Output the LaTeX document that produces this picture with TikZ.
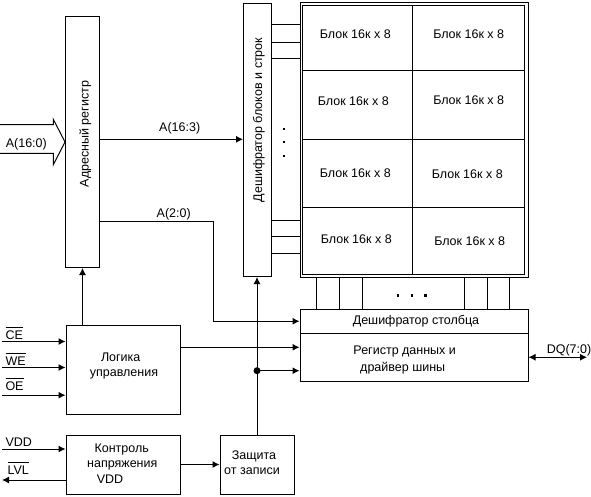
\documentclass[tikz,border=0pt]{standalone}
\usepackage{fontspec}
\setmainfont{Liberation Sans}
\usetikzlibrary{arrows.meta}
\newcommand\ovl[1]{\leavevmode\vbox{\hrule height 1pt depth 0pt\kern 2.5pt\hbox{#1}}}
\begin{document}
\begin{tikzpicture}[x=1pt,y=-1pt,line width=1pt,
  box/.style={draw,inner sep=0pt,anchor=north west},
  txt/.style={inner sep=0pt,anchor=base,font=\fontsize{12.5}{14}\selectfont},
  ltxt/.style={inner sep=0pt,anchor=base west,font=\fontsize{12.5}{14}\selectfont},
  arr/.style={-{Latex[length=7pt,width=7pt]}},
  darr/.style={{Latex[length=7pt,width=7pt]}-{Latex[length=7pt,width=7pt]}}]
\useasboundingbox (0,0) rectangle (591,497);
% blocks
\node[box,minimum width=34pt,minimum height=251pt] (areg) at (65,16) {};
\node[box,minimum width=28pt,minimum height=273pt] (dec) at (243,3) {};
\node[box,minimum width=228pt,minimum height=274pt] (mem) at (299.5,2.5) {};
\node[box,minimum width=228pt,minimum height=24.5pt] (coldec) at (299.5,308.5) {};
\node[box,minimum width=228pt,minimum height=47.5pt] (datareg) at (299.5,333) {};
\node[box,minimum width=114pt,minimum height=89pt] (logic) at (65.5,324.5) {};
\node[box,minimum width=114pt,minimum height=59pt] (volt) at (65.5,434.5) {};
\node[box,minimum width=74pt,minimum height=59pt] (prot) at (219.5,434.5) {};
% memory inner frame and grid
\draw (302.5,5.5) rectangle (524.5,274);
\draw (412.7,5.5) -- (412.7,274);
\foreach \y in {70.3,139.3,207.3} \draw (302.5,\y) -- (524.5,\y);
% texts in blocks
\node[txt,rotate=90] (tareg) at (88.5,134) {Адресный регистр};
\node[txt,rotate=90] (tdec) at (262,120) {Дешифратор блоков и строк};
\node[txt] (b11) at (355.3,38.3) {Блок 16к x 8};
\node[txt] (b12) at (468.7,38.3) {Блок 16к x 8};
\node[txt] (b21) at (353.3,106) {Блок 16к x 8};
\node[txt] (b22) at (468.7,105) {Блок 16к x 8};
\node[txt] (b31) at (355.3,177.3) {Блок 16к x 8};
\node[txt] (b32) at (467.3,178.3) {Блок 16к x 8};
\node[txt] (b41) at (356.3,243.3) {Блок 16к x 8};
\node[txt] (b42) at (469.7,245.7) {Блок 16к x 8};
\node[txt] (tcol) at (416,324.5) {Дешифратор столбца};
\node[txt] (tdr1) at (404.7,354.3) {Регистр данных и};
\node[txt] (tdr2) at (402.7,371.7) {драйвер шины};
\node[txt] (tl1) at (120.7,361) {Логика};
\node[txt] (tl2) at (124,376) {управления};
\node[txt] (tv1) at (121.7,452.7) {Контроль};
\node[txt] (tv2) at (122.3,467.3) {напряжения};
\node[txt] (tv3) at (110,483.3) {VDD};
\node[txt] (tp1) at (254,459) {Защита};
\node[txt] (tp2) at (252,474.3) {от записи};
% hollow input arrow
\draw (0,124.7) -- (53.3,124.7) -- (53.3,119.3) -- (areg.west |- 0,142) -- (53.3,164.7) -- (53.3,153.3) -- (0,153.3);
\node[txt] (la160) at (26.3,147.3) {A(16:0)};
% address buses
\draw[arr] (areg.east |- 0,139.3) -- (dec.west |- 0,139.3);
\node[txt] (la163) at (179.7,131.7) {A(16:3)};
\draw[arr] (areg.east |- 0,221) -- (213.3,221) |- (coldec.west);
\node[txt] (la20) at (173.7,217.3) {A(2:0)};
% decoder to memory lines
\foreach \y in {24.7,42.3,59,220,236.7,253.3} \draw (dec.east |- 0,\y) -- (mem.west |- 0,\y);
\foreach \y in {129,142,156} \fill (282.7,\y-1.3) rectangle ++(2.6,2.6);
% memory to column decoder lines
\foreach \x in {316.7,339.3,362.3,464.3,487.3,509.3} \draw (\x,0 |- mem.south) -- (\x,0 |- coldec.north);
\foreach \x in {398,412,425.7} \fill (\x-1.3,294.4) rectangle ++(2.6,2.6);
% control
\draw[arr] (areg.south |- logic.north) -- (areg.south);
\draw[arr] (logic.east |- 0,347.3) -- (datareg.west |- 0,347.3);
\draw[arr] (prot.north) -- (prot.north |- dec.south);
\coordinate (j) at (prot.north |- 0,370.7);
\fill (j) circle (3.5);
\draw[arr] (j) -- (datareg.west |- j);
\draw[arr] (volt.east) -- (prot.west);
% inputs
\coordinate (ce) at (2,341.5);
\coordinate (we) at (2,367.5);
\coordinate (oe) at (2,395.2);
\coordinate (vdd) at (2,449);
\coordinate (lvl) at (2,480);
\draw[arr] (ce) -- (logic.west |- ce);
\draw[arr] (we) -- (logic.west |- we);
\draw[arr] (oe) -- (logic.west |- oe);
\draw[arr] (vdd) -- (volt.west |- vdd);
\draw[arr] (volt.west |- lvl) -- (lvl);
\node[ltxt] (lce) at (5,339.5) {\ovl{CE}};
\node[ltxt] (lwe) at (5,365) {\ovl{WE}};
\node[ltxt] (loe) at (5,390) {\ovl{OE}};
\node[ltxt] (lvdd) at (5,446.7) {VDD};
\node[ltxt] (llvl) at (7,474.3) {\ovl{LVL}};
% data bus
\coordinate (dq) at (587,0 |- datareg.east);
\draw[darr] (datareg.east) -- (dq);
\node[txt] (ldq) at (569,353.5) {DQ(7:0)};
\end{tikzpicture}
\end{document}
